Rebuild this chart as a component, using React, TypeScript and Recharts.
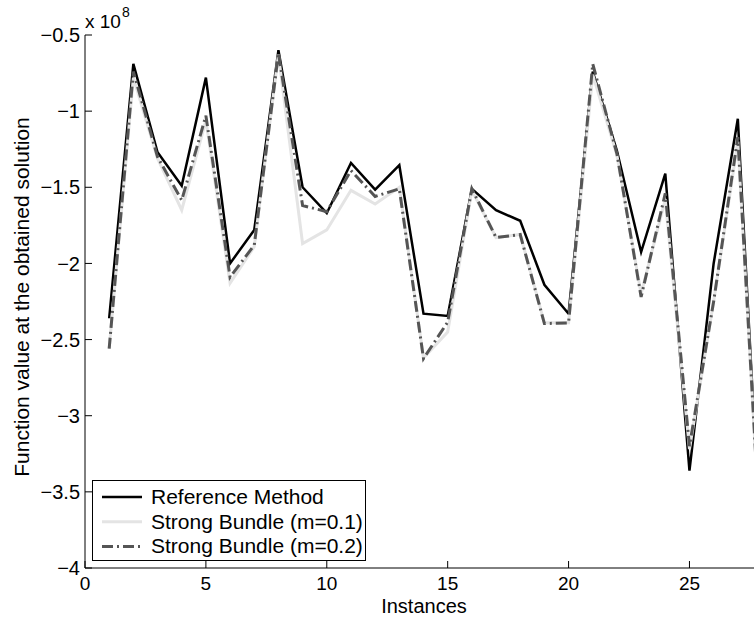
import React from "react";
import { LineChart, Line, XAxis, YAxis } from "recharts";

// instance index on the x axis
const instances = [
  1, 2, 3, 4, 5, 6, 7, 8, 9, 10, 11, 12, 13, 14, 15, 16, 17, 18, 19, 20, 21, 22, 23, 24, 25, 26, 27, 28,
];

// function values, in units of 1e8
const referenceMethod = [
  -2.36, -0.69, -1.27, -1.49, -0.78, -2.0, -1.78, -0.6, -1.5, -1.67, -1.34, -1.515, -1.355, -2.33,
  -2.345, -1.51, -1.65, -1.72, -2.14, -2.33, -0.74, -1.26, -1.925, -1.41, -3.36, -2.0, -1.05, -4.0,
];
const strongBundle01 = [
  -2.56, -0.78, -1.31, -1.65, -1.06, -2.13, -1.89, -0.63, -1.87, -1.78, -1.52, -1.61, -1.5, -2.62,
  -2.45, -1.52, -1.83, -1.81, -2.39, -2.39, -0.76, -1.29, -2.2, -1.58, -3.22, -2.25, -1.2, -4.0,
];
const strongBundle02 = [
  -2.56, -0.74, -1.3, -1.585, -1.03, -2.09, -1.88, -0.62, -1.62, -1.66, -1.39, -1.56, -1.51, -2.625,
  -2.385, -1.51, -1.83, -1.81, -2.395, -2.39, -0.69, -1.28, -2.22, -1.54, -3.2, -2.25, -1.17, -4.0,
];

const xTicks = [0, 5, 10, 15, 20, 25];
const yTicks = [-4, -3.5, -3, -2.5, -2, -1.5, -1, -0.5];

const series = [
  { key: "ref", name: "Reference Method", color: "#000000", width: 2.5, dash: undefined },
  { key: "m01", name: "Strong Bundle (m=0.1)", color: "#e4e4e4", width: 3, dash: undefined },
  { key: "m02", name: "Strong Bundle (m=0.2)", color: "#555555", width: 3, dash: "11 4 2 4" },
];

const data = instances.map((x, i) => ({
  x,
  ref: referenceMethod[i],
  m01: strongBundle01[i],
  m02: strongBundle02[i],
}));

const FONT = "'Liberation Sans', Arial, Helvetica, sans-serif";
const fmt = (v: number) => String(v).replace("-", "\u2212");

export default function App() {
  return (
    <div
      style={{
        position: "absolute",
        left: 0,
        top: 0,
        width: 754,
        height: 618,
        overflow: "hidden",
        background: "#fff",
        fontFamily: FONT,
      }}
    >
      <LineChart width={770} height={618} data={data} margin={{ top: 35, right: 8, bottom: 0, left: 0 }}>
        <XAxis
          dataKey="x"
          type="number"
          domain={[0, 28]}
          ticks={xTicks}
          allowDataOverflow
          height={50}
          tickSize={-7}
          tickMargin={16}
          axisLine={{ stroke: "#000" }}
          tickLine={{ stroke: "#000" }}
          tick={{ fill: "#000", fontSize: 19, fontFamily: FONT }}
        />
        <XAxis
          xAxisId="top"
          orientation="top"
          dataKey="x"
          type="number"
          domain={[0, 28]}
          ticks={xTicks}
          allowDataOverflow
          height={0}
          tickSize={-7}
          tick={false}
          axisLine={{ stroke: "#000" }}
          tickLine={{ stroke: "#000" }}
        />
        <YAxis
          type="number"
          domain={[-4, -0.5]}
          ticks={yTicks}
          allowDataOverflow
          width={85}
          tickSize={-7}
          tickMargin={12}
          tickFormatter={fmt}
          axisLine={{ stroke: "#000" }}
          tickLine={{ stroke: "#000" }}
          tick={{ fill: "#000", fontSize: 20, fontFamily: FONT }}
        />
        {series.map((s) => (
          <Line
            key={s.key}
            dataKey={s.key}
            type="linear"
            stroke={s.color}
            strokeWidth={s.width}
            strokeDasharray={s.dash}
            dot={false}
            activeDot={false}
            isAnimationActive={false}
          />
        ))}
      </LineChart>

      <svg
        width={754}
        height={618}
        style={{ position: "absolute", left: 0, top: 0, pointerEvents: "none" }}
      >
        <text x={85} y={28} fontSize={19} fontFamily={FONT} fill="#000">
          x 10
        </text>
        <text x={122} y={17} fontSize={14} fontFamily={FONT} fill="#000">
          8
        </text>
        <text
          x={29}
          y={297}
          fontSize={21}
          fontFamily={FONT}
          fill="#000"
          textAnchor="middle"
          transform="rotate(-90, 29, 297)"
        >
          Function value at the obtained solution
        </text>
        <text x={424} y={613} fontSize={20} fontFamily={FONT} fill="#000" textAnchor="middle">
          Instances
        </text>
      </svg>

      <div
        style={{
          position: "absolute",
          left: 92,
          top: 480,
          width: 274,
          height: 81,
          boxSizing: "border-box",
          border: "1px solid #000",
          background: "#fff",
        }}
      >
        <svg width={272} height={79}>
          {series.map((s, i) => {
            const cy = 16 + i * 24.7;
            return (
              <g key={s.key}>
                <line
                  x1={9}
                  x2={49}
                  y1={cy}
                  y2={cy}
                  stroke={s.color}
                  strokeWidth={s.width}
                  strokeDasharray={s.dash}
                />
                <text x={58} y={cy + 7} fontSize={21} fontFamily={FONT} fill="#000">
                  {s.name}
                </text>
              </g>
            );
          })}
        </svg>
      </div>
    </div>
  );
}
